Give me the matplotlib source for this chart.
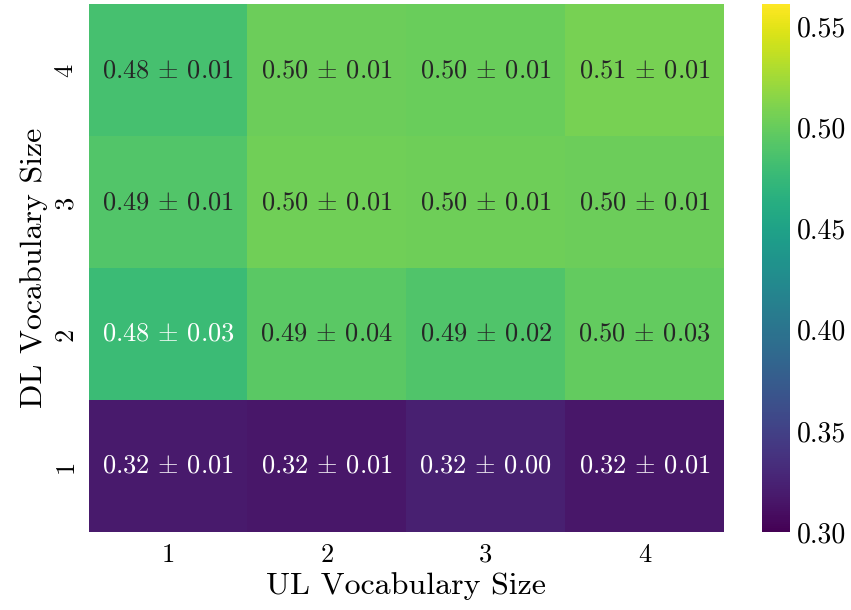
import numpy as np
import matplotlib
matplotlib.use("Agg")
import matplotlib.pyplot as plt
import seaborn as sns

plt.rcParams["font.family"] = "cmr10"
plt.rcParams["mathtext.fontset"] = "cm"
plt.rcParams["axes.formatter.use_mathtext"] = True

ul_sizes = [1, 2, 3, 4]
dl_sizes = [4, 3, 2, 1]  # top to bottom

# mean accuracy per (DL, UL) vocabulary size, rows ordered DL = 4, 3, 2, 1
means = np.array([
    [0.484, 0.502, 0.501, 0.507],
    [0.490, 0.504, 0.503, 0.502],
    [0.478, 0.494, 0.489, 0.498],
    [0.318, 0.316, 0.323, 0.316],
])
stds = np.array([
    [0.01, 0.01, 0.01, 0.01],
    [0.01, 0.01, 0.01, 0.01],
    [0.03, 0.04, 0.02, 0.03],
    [0.01, 0.01, 0.00, 0.01],
])

labels = np.array([[r"%.2f $\pm$ %.2f" % (m, s) for m, s in zip(mr, sr)]
                   for mr, sr in zip(means, stds)])

fig = plt.figure(figsize=(8.51, 6.10), dpi=100)
ax = fig.add_axes([0.104, 0.128, 0.747, 0.865])
cax = fig.add_axes([0.896, 0.128, 0.032, 0.865])

sns.heatmap(means, annot=labels, fmt="", cmap="viridis", vmin=0.30, vmax=0.561,
            xticklabels=ul_sizes, yticklabels=dl_sizes, ax=ax, cbar_ax=cax,
            annot_kws={"fontsize": 19})

# the top-left cell sits just above the light/dark text threshold
ax.texts[0].set_color(".15")

ax.set_xlabel("UL Vocabulary Size", fontsize=23)
ax.set_ylabel("DL Vocabulary Size", fontsize=23)
ax.tick_params(axis="both", length=0, labelsize=19, pad=8)
ax.set_yticklabels(dl_sizes, rotation=90, va="center")

cax.tick_params(length=0, labelsize=20, pad=5)
cax.set_yticks([0.30, 0.35, 0.40, 0.45, 0.50, 0.55])
cax.set_yticklabels(["0.30", "0.35", "0.40", "0.45", "0.50", "0.55"])

fig.savefig("out.png", dpi=100)
